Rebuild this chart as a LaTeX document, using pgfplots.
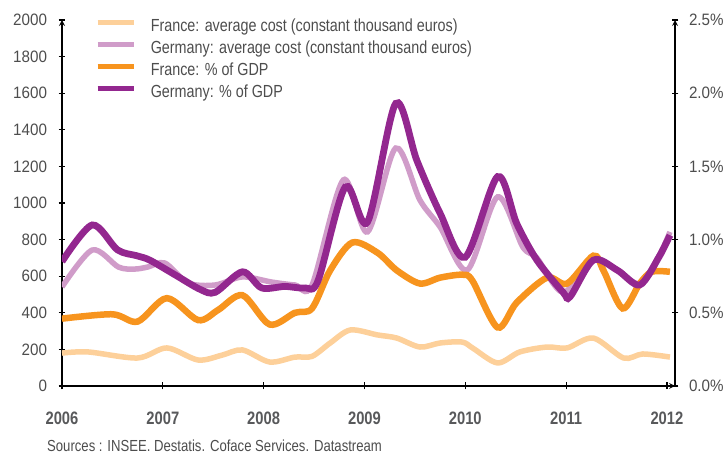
\documentclass[border=0pt]{standalone}
\usepackage{pgfplots}
\usepackage{pgfplotstable}
\pgfplotsset{compat=1.18}
\usepackage{fontspec}
\setmainfont{Liberation Sans}[FakeStretch=0.82]
\newfontfamily\tickfont{Liberation Sans}[FakeStretch=0.92]

\definecolor{peach}{HTML}{FDD09A}
\definecolor{mauve}{HTML}{D09CC9}
\definecolor{orangeline}{HTML}{F7941E}
\definecolor{purpleline}{HTML}{93278F}
\definecolor{tickgray}{HTML}{4D4D4D}
\definecolor{xgray}{HTML}{58595B}

% cout moyen (milliers d'euros constants)
\pgfplotstableread{
year val
2006.00 180
2006.26 186
2006.75 153
2007.04 208
2007.35 142
2007.59 169
2007.79 197
2008.06 131
2008.31 158
2008.48 162
2008.66 235
2008.86 306
2009.13 279
2009.32 262
2009.55 213
2009.75 235
2009.97 240
2010.08 205
2010.32 126
2010.54 186
2010.81 213
2011.01 208
2011.27 262
2011.57 153
2011.76 175
2012.03 158
}\frcost

\pgfplotstableread{
year val
2006.00 541
2006.30 743
2006.56 650
2006.72 639
2006.85 650
2007.02 672
2007.25 563
2007.52 552
2007.79 596
2008.08 568
2008.31 552
2008.48 552
2008.79 1126
2009.03 842
2009.31 1300
2009.55 1016
2009.75 869
2010.02 634
2010.32 1033
2010.57 760
2010.71 700
2010.97 512
2011.27 688
2011.51 632
2011.73 560
2011.92 710
2012.03 842
}\decost

% part du PIB (%)
\pgfplotstableread{
year val
2006.00 0.46
2006.50 0.49
2006.75 0.44
2007.04 0.60
2007.35 0.45
2007.55 0.52
2007.79 0.62
2008.06 0.42
2008.31 0.50
2008.48 0.53
2008.66 0.79
2008.88 0.98
2009.13 0.91
2009.32 0.79
2009.55 0.70
2009.75 0.74
2009.97 0.76
2010.07 0.72
2010.32 0.40
2010.51 0.57
2010.81 0.74
2011.01 0.70
2011.27 0.89
2011.37 0.79
2011.56 0.53
2011.73 0.70
2011.85 0.78
2012.03 0.78
}\frgdp

\pgfplotstableread{
year val
2006.00 0.85
2006.30 1.10
2006.55 0.93
2006.74 0.89
2006.87 0.86
2007.12 0.76
2007.37 0.66
2007.52 0.64
2007.79 0.78
2007.98 0.67
2008.21 0.68
2008.41 0.67
2008.54 0.72
2008.81 1.36
2009.03 1.12
2009.31 1.93
2009.52 1.54
2009.75 1.18
2010.00 0.88
2010.32 1.43
2010.51 1.11
2010.71 0.86
2010.97 0.64
2011.04 0.61
2011.27 0.86
2011.51 0.79
2011.73 0.69
2011.92 0.88
2012.03 1.03
}\degdp

\pgfplotsset{
  base/.style={
    scale only axis, width=613pt, height=366pt,
    at={(0,0)}, anchor=south west,
    xmin=2006, xmax=2012.08,
    axis line style={-, line width=1.6pt, black},
    tick align=outside, major tick length=7pt,
    tick style={black, line width=1.2pt},
    /pgf/number format/1000 sep={},
    /pgf/number format/assume math mode=true,
    yticklabel style={font=\tickfont\fontsize{16.5}{18}\selectfont, text=tickgray},
  },
}

\begin{document}
\begin{tikzpicture}
\begin{axis}[base, name=main,
  ymin=0, ymax=2000,
  axis x line=bottom, axis y line=left,
  xtick={2006,2007,2008,2009,2010,2011,2012},
  ytick={0,200,400,600,800,1000,1200,1400,1600,1800,2000},
  yticklabel style={xshift=-8pt},
  xticklabel style={font=\bfseries\fontsize{18}{20}\selectfont, text=xgray, yshift=-19pt},
]
\addplot[peach, line width=5.5pt, smooth] table[x=year, y=val] {\frcost};
\addplot[mauve, line width=5.5pt, smooth] table[x=year, y=val] {\decost};
\end{axis}

\begin{axis}[base,
  ymin=0, ymax=2.5,
  axis x line=none, axis y line=right,
  ytick={0,0.5,1,1.5,2,2.5},
  yticklabel style={xshift=7pt},
  yticklabel={\pgfmathprintnumber[fixed,fixed zerofill,precision=1]{\tick}\%},
  legend style={at={(0,1)}, anchor=north west, xshift=33pt, yshift=4.5pt,
    draw=none, fill=none, inner sep=0pt, row sep=0pt, column sep=12pt,
    font=\fontsize{17.5}{20}\selectfont, text=tickgray,
    nodes={inner sep=2.6pt, text height=13pt, text depth=4pt}},
  legend cell align=left,
  legend image code/.code={\draw[#1, line width=5pt] (0pt,4.5pt) -- (36pt,4.5pt);},
]
\addlegendimage{peach}
\addlegendentry{France: average cost (constant thousand euros)}
\addlegendimage{mauve}
\addlegendentry{Germany: average cost (constant thousand euros)}
\addplot[orangeline, line width=6.5pt, smooth] table[x=year, y=val] {\frgdp};
\addlegendentry{France: \% of GDP}
\addplot[purpleline, line width=6.8pt, smooth] table[x=year, y=val] {\degdp};
\addlegendentry{Germany: \% of GDP}
\end{axis}

\node[anchor=base west, inner sep=0pt, font=\fontsize{16}{18}\selectfont, text=tickgray]
  at ([xshift=-15pt, yshift=-66pt]main.south west)
  {Sources : INSEE. Destatis. Coface Services. Datastream};

\pgfresetboundingbox
\path[use as bounding box] ([xshift=-62pt,yshift=-68pt]main.south west)
  rectangle ([xshift=51pt,yshift=20pt]main.north east);
\end{tikzpicture}
\end{document}
